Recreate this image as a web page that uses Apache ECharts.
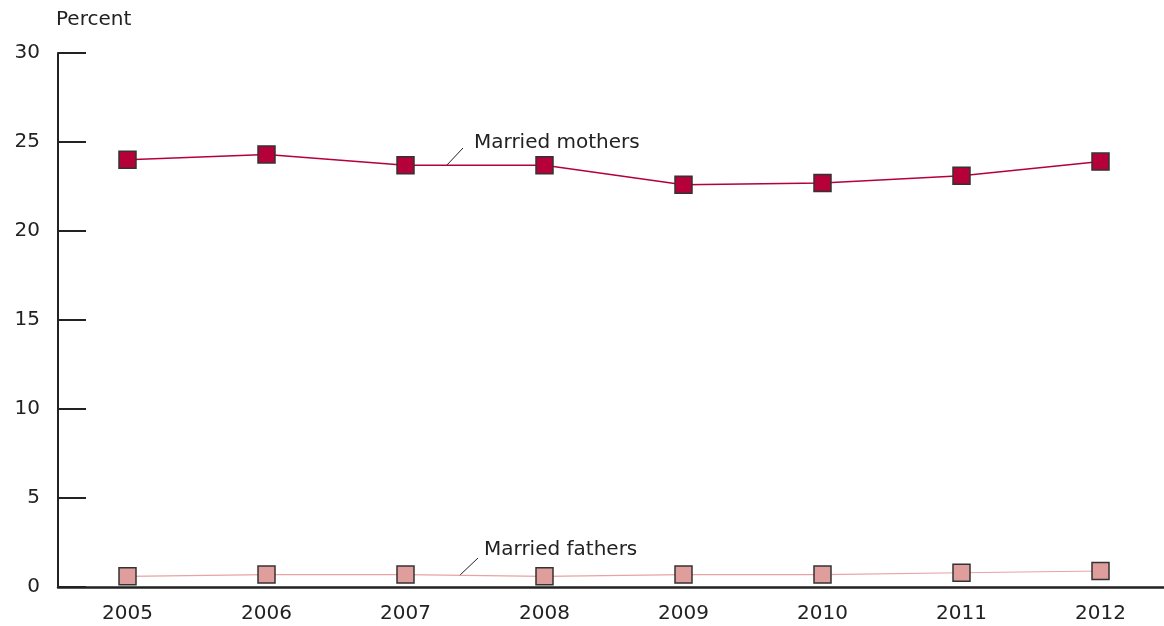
<!DOCTYPE html>
<html>
<head>
    <meta charset="utf-8">
    <title>Married parents</title>
    <script src="https://cdn.jsdelivr.net/npm/echarts@6/dist/echarts.min.js"></script>
    <style>
        html, body { margin: 0; padding: 0; background: #fff; overflow: hidden; }
        #chart { width: 1170px; height: 626px; }
    </style>
</head>
<body>
<div id="chart"></div>
<script>
    var years = ['2005', '2006', '2007', '2008', '2009', '2010', '2011', '2012'];
    var marriedMothers = [24.0, 24.3, 23.7, 23.7, 22.6, 22.7, 23.1, 23.9];
    var marriedFathers = [0.6, 0.7, 0.7, 0.6, 0.7, 0.7, 0.8, 0.9];
    var yTicks = [0, 5, 10, 15, 20, 25, 30];

    var font = 'DejaVu Sans';
    // chart div is a bit wider than the window so the x axis runs off the right edge
    var myChart = echarts.init(document.getElementById('chart'));

    var option = {
        animation: false,
        textStyle: { fontFamily: font },
        grid: { left: 58, right: 0, top: 53, bottom: 39 },
        xAxis: {
            type: 'category',
            data: years,
            boundaryGap: true,
            axisLine: { lineStyle: { color: '#222', width: 2.5 } },
            axisTick: { show: false },
            axisLabel: { color: '#222', fontSize: 20, margin: 17, fontFamily: font }
        },
        yAxis: {
            type: 'value',
            min: yTicks[0],
            max: yTicks[yTicks.length - 1],
            interval: 5,
            name: 'Percent',
            nameLocation: 'end',
            nameGap: 23,
            nameTextStyle: { color: '#222', fontSize: 20, align: 'left', padding: [0, 0, 0, -2], fontFamily: font },
            splitLine: { show: false },
            axisLine: { show: true, lineStyle: { color: '#222', width: 2 } },
            axisTick: { show: true, inside: true, length: 28, lineStyle: { color: '#222', width: 2 } },
            axisLabel: { color: '#222', fontSize: 20, margin: 18, fontFamily: font }
        },
        series: [
            {
                name: 'Married mothers',
                type: 'line',
                data: marriedMothers,
                symbol: 'rect',
                symbolSize: 17,
                lineStyle: { color: '#b5003a', width: 1.5 },
                itemStyle: { color: '#b5003a', borderColor: '#333', borderWidth: 1.5 }
            },
            {
                name: 'Married fathers',
                type: 'line',
                data: marriedFathers,
                symbol: 'rect',
                symbolSize: 17,
                lineStyle: { color: '#e8a3a3', width: 1.2 },
                itemStyle: { color: '#df9e9b', borderColor: '#333', borderWidth: 1.5 }
            }
        ],
        graphic: [
            { type: 'line', shape: { x1: 446, y1: 166, x2: 463, y2: 148 }, style: { stroke: '#222', lineWidth: 1 } },
            { type: 'text', left: 474, top: 133, style: { text: 'Married mothers', fill: '#222', font: '20px "DejaVu Sans"' } },
            { type: 'line', shape: { x1: 459, y1: 576, x2: 478, y2: 558 }, style: { stroke: '#222', lineWidth: 1 } },
            { type: 'text', left: 484, top: 540, style: { text: 'Married fathers', fill: '#222', font: '20px "DejaVu Sans"' } }
        ]
    };

    myChart.setOption(option);
</script>
</body>
</html>
